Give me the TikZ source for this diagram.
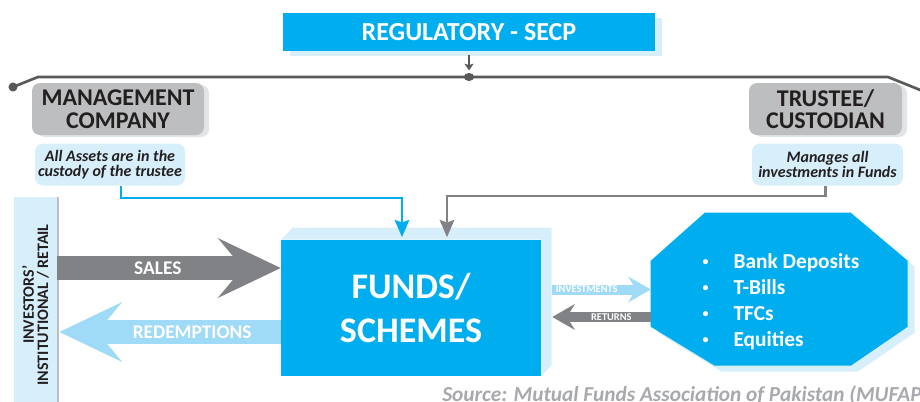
\documentclass[tikz,border=0pt]{standalone}
\usepackage{fontspec}
\setmainfont{Carlito}
\usepackage{tikz}
\usetikzlibrary{arrows.meta,positioning,shadows}
\definecolor{fundblue}{HTML}{00AEEF}
\definecolor{paleblue}{HTML}{D7EFFB}
\definecolor{flowblue}{HTML}{9FDAF6}
\definecolor{boxgray}{HTML}{BCBEC0}
\definecolor{shadegray}{HTML}{E3E4E5}
\definecolor{flowgray}{HTML}{808285}
\definecolor{linegray}{HTML}{58595B}
\definecolor{inkdark}{HTML}{231F20}
\definecolor{srcgray}{HTML}{A7A9AC}
\newcommand{\assetdot}{\makebox[23.25pt][l]{\raisebox{2pt}{\fontsize{9}{9}\selectfont\textbullet}}}
\tikzstyle{regbox}=[rectangle,fill=fundblue,text=white,minimum width=279pt,minimum height=28.5pt,
font=\fontsize{19.5}{20}\selectfont\bfseries,
drop shadow={fill=paleblue,opacity=1,shadow xshift=5.25pt,shadow yshift=-3.75pt}]
\tikzstyle{partybox}=[rectangle,rounded corners=6pt,fill=boxgray,text=inkdark,align=center,
minimum width=129pt,minimum height=39pt,inner sep=1pt,font=\fontsize{18}{17}\selectfont\bfseries,
drop shadow={fill=shadegray,opacity=1,shadow xshift=3.75pt,shadow yshift=-1.5pt}]
\tikzstyle{notebox}=[rectangle,rounded corners=6pt,fill=paleblue,text=inkdark,align=center,
minimum width=112.5pt,minimum height=31.5pt,inner sep=1pt,font=\fontsize{12}{11.3}\selectfont\bfseries\itshape]
\tikzstyle{fundbox}=[rectangle,fill=fundblue,text=white,align=center,minimum width=195pt,
minimum height=102pt,font=\fontsize{27}{33}\selectfont\bfseries]
\tikzstyle{assetbox}=[rectangle,inner sep=0pt,minimum width=192.75pt,minimum height=114.75pt]
\tikzstyle{assetlist}=[text=white,align=left,inner sep=0pt,font=\fontsize{16}{19.5}\selectfont\bfseries]
\tikzstyle{invbar}=[rectangle,fill=paleblue,minimum width=32.25pt,minimum height=159.75pt,inner sep=0pt]
\tikzstyle{bigflow}=[line width=18pt,-{Stealth[length=47.25pt,width=45pt,inset=18.75pt,line width=0pt]}]
\tikzstyle{smallflow}=[line width=7.5pt,-{Stealth[length=17pt,width=19.5pt,inset=6pt,line width=0pt]}]
\tikzstyle{flowtext}=[text=white,font=\fontsize{14.5}{15}\selectfont\bfseries]
\tikzstyle{tinytext}=[text=white,inner sep=0pt,font=\fontsize{7.8}{8}\selectfont\bfseries]
\tikzstyle{bluelink}=[draw=fundblue,line width=1.8pt,shorten >=2pt,
-{Stealth[length=13pt,width=11.25pt,inset=2pt,line width=0pt]}]
\tikzstyle{graylink}=[draw=flowgray,line width=1.8pt,shorten >=2pt,
-{Stealth[length=13pt,width=11.25pt,inset=2pt,line width=0pt]}]
\tikzstyle{reglink}=[draw=linegray,line width=1.5pt,shorten <=3pt,shorten >=5pt,
-{Stealth[length=5pt,width=7pt,inset=1pt,line width=0pt]}]
\tikzstyle{busline}=[draw=linegray,line width=2pt]
\begin{document}
\begin{tikzpicture}[x=0.75pt,y=-0.75pt]
            \useasboundingbox (0,0) rectangle (920,401);
            \clip (0,0) rectangle (920,401);

            % REGULATOR PART

            \node[regbox] (secp) at (469,32) {REGULATORY - SECP};
            \coordinate (hub) at (469,77);
            \coordinate (lbend) at (38,77);
            \coordinate (ldot) at (13,87);
            \coordinate (rbend) at (888,77);
            \coordinate (rend) at (940,98);

            \draw[busline] (ldot) -- (lbend) -- (rbend) -- (rend);
            \fill[linegray] (ldot) circle (3.4pt);
            \fill[linegray] (hub) ellipse [x radius=3.9pt,y radius=3pt];
            \draw[reglink] (secp) -- (hub);

            % MANAGEMENT AND TRUSTEE PART

            \node[partybox] (amc) at (118,109) {MANAGEMENT\\COMPANY};
            \node[notebox,below=6pt of amc,xshift=-6pt] (amcnote) {All Assets are in the\\custody of the trustee};
            \node[partybox,minimum width=114.75pt] (trustee) at (825.5,109) {TRUSTEE/\\CUSTODIAN};
            \node[notebox,below=6pt of trustee,xshift=1.5pt,minimum width=113.25pt] (trusteenote) {Manages all\\investments in Funds};

            % FUNDS PART

            \node[fundbox] (funds) at (411,308) {FUNDS/\\SCHEMES};
            \fill[paleblue] (funds.north west) -- ++(12,-12) -- ++(259,0) -- ++(0,137)
                -- (funds.south east) -- (funds.north east) -- cycle;

            \draw[bluelink] ([xshift=8.25pt]amcnote.south) -- ++(0,12) -| ([xshift=-6.75pt]funds.north);
            \draw[graylink] ([xshift=-1.5pt]trusteenote.south) -- ++(0,10) -| ([xshift=27pt]funds.north);

            % INVESTORS PART

            \node[invbar,label={[rotate=90,align=center,text=inkdark,xshift=-1pt,
                font=\fontsize{12}{10.8}\selectfont\bfseries]center:{INVESTORS’\\INSTITUTIONAL / RETAIL}}] (investors) at (35.5,303.5) {};
            \draw[boxgray,line width=1.5pt] ([xshift=0.75pt]investors.north east) -- ([xshift=0.75pt]investors.south east);

            \coordinate (salesin) at ([yshift=30pt]funds.west);
            \coordinate (redeemout) at ([yshift=-18pt]funds.west);
            \draw[bigflow,flowgray] (investors.east |- salesin) -- node[flowtext,pos=.45] {SALES} (salesin);
            \draw[bigflow,flowblue] (redeemout) -- node[flowtext,pos=.40] {REDEMPTIONS} ([xshift=1.5pt]investors.east |- redeemout);

            % ASSETS PART

            \node[assetbox] (assets) at (779.5,289.5) {};
            \fill[paleblue] ([shift={(7,6)}]assets.north west) ++(54,0) -- ++(146,0) -- ++(57,48) -- ++(0,66)
                -- ++(-57,39) -- ++(-136,0) -- ++(-64,-39) -- ++(0,-66) -- cycle;
            \fill[fundblue] (assets.north west) ++(54,0) -- ++(146,0) -- ++(57,48) -- ++(0,66)
                -- ++(-57,39) -- ++(-136,0) -- ++(-64,-39) -- ++(0,-66) -- cycle;
            \node[assetlist] (assetitems) at ([xshift=1.1pt,yshift=-8.8pt]assets.center)
                {\assetdot Bank Deposits\\
                 \assetdot T-Bills\\
                 \assetdot TFCs\\
                 \assetdot Equities};

            \coordinate (fundsback) at ([xshift=8.25pt]funds.east);
            \coordinate (returnsout) at ([yshift=-20.6pt]assets.west);
            \draw[smallflow,flowblue] (fundsback |- assets.west) -- node[tinytext,pos=.35] {INVESTMENTS} (assets.west);
            \draw[smallflow,flowgray] (returnsout) -- node[tinytext,pos=.40] {RETURNS} (fundsback |- returnsout);

            % SOURCE

            \node[anchor=base west,inner sep=0pt,text=srcgray,font=\fontsize{16}{16}\selectfont\bfseries\itshape] (source)
                at (442,401) {Source: Mutual Funds Association of Pakistan (MUFAP};

\end{tikzpicture}
\end{document}
